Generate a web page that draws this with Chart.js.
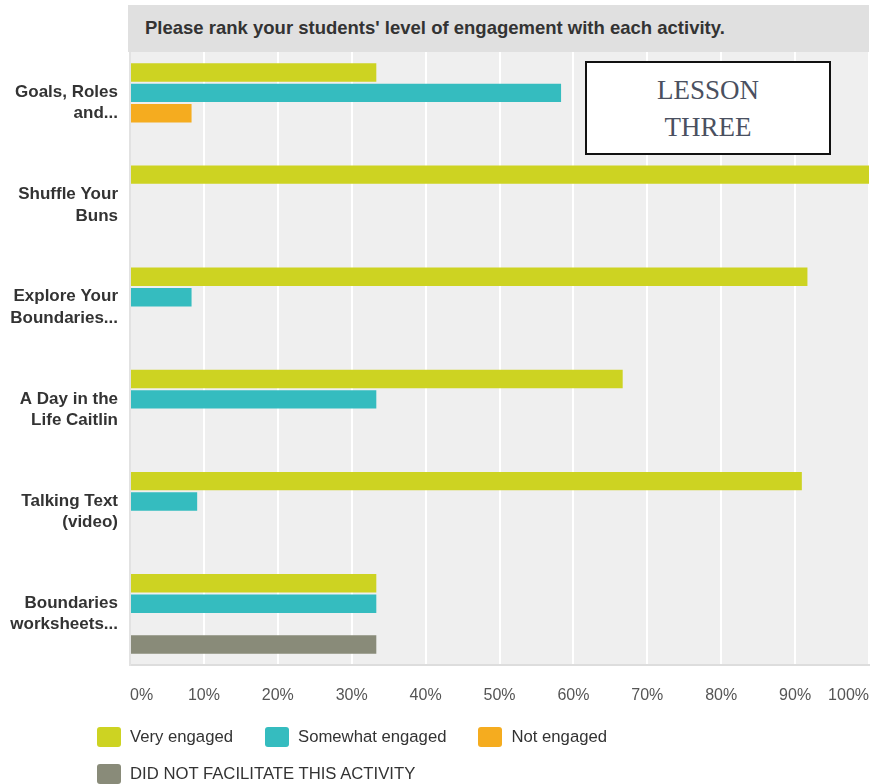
<!DOCTYPE html>
<html>
<head>
<meta charset="utf-8">
<script src="https://cdn.jsdelivr.net/npm/chart.js@4/dist/chart.umd.min.js"></script>
<style>
  html, body { margin: 0; padding: 0; background: #ffffff; }
  #wrap { position: relative; width: 871px; height: 784px; overflow: hidden; font-family: "Liberation Sans", Arial, sans-serif; }
  #c { position: absolute; left: 0; top: 0; }
  #titlebar { position: absolute; left: 128px; top: 5px; width: 741px; height: 47px; background: #e0e0e0;
    font-weight: bold; font-size: 18.5px; color: #333; line-height: 45px; box-sizing: border-box; padding-left: 17px; white-space: nowrap; }
  #lesson { position: absolute; left: 585px; top: 61px; width: 246px; height: 94px; box-sizing: border-box;
    border: 2px solid #111; background: #fff; font-family: "Liberation Serif", "DejaVu Serif", serif; font-size: 27px;
    color: #4a5060; text-align: center; line-height: 37px; padding-top: 9px; }
  #legend { position: absolute; left: 97px; top: 727px; width: 760px; display: flex; flex-wrap: wrap; row-gap: 17px; column-gap: 32px; }
  .li { display: flex; align-items: center; font-size: 16.7px; color: #333; height: 20px; }
  .sw { width: 24px; height: 20px; border-radius: 3px; margin-right: 9px; }
</style>
</head>
<body>
<div id="wrap">
  <canvas id="c" width="871" height="784"></canvas>
  <div id="titlebar">Please rank your students' level of engagement with each activity.</div>
  <div id="lesson">LESSON<br>THREE</div>
  <div id="legend"></div>
</div>
<script>
const categories = [
  ["Goals, Roles", "and..."],
  ["Shuffle Your", "Buns"],
  ["Explore Your", "Boundaries..."],
  ["A Day in the", "Life Caitlin"],
  ["Talking Text", "(video)"],
  ["Boundaries", "worksheets..."]
];
const seriesNames = ["Very engaged", "Somewhat engaged", "Not engaged", "DID NOT FACILITATE THIS ACTIVITY"];
const veryEngaged      = [33.33, 100, 91.67, 66.67, 90.91, 33.33];
const somewhatEngaged  = [58.33, 0, 8.33, 33.33, 9.09, 33.33];
const notEngaged       = [8.33, 0, 0, 0, 0, 0];
const didNotFacilitate = [0, 0, 0, 0, 0, 33.33];
const tickLabels = ["0%", "10%", "20%", "30%", "40%", "50%", "60%", "70%", "80%", "90%", "100%"];
const colors = ["#cdd322", "#35bcbf", "#f5ac1f", "#898b79"];

const seriesData = [veryEngaged, somewhatEngaged, notEngaged, didNotFacilitate];
const datasets = seriesNames.map((name, i) => ({
  label: name,
  data: seriesData[i],
  backgroundColor: colors[i],
  borderWidth: 0,
  categoryPercentage: 0.8,
  barPercentage: 0.9
}));

const bgPlugin = {
  id: 'plotBg',
  beforeDraw(chart) {
    const { ctx, chartArea: a } = chart;
    ctx.save();
    ctx.fillStyle = '#efefef';
    ctx.fillRect(a.left, a.top, a.right - a.left, a.bottom - a.top);
    ctx.restore();
  }
};

new Chart(document.getElementById('c'), {
  type: 'bar',
  data: { labels: categories, datasets },
  options: {
    indexAxis: 'y',
    responsive: false,
    animation: false,
    layout: { padding: { top: 52, right: 2, bottom: 69, left: 0 } },
    plugins: { legend: { display: false }, tooltip: { enabled: false }, title: { display: false } },
    scales: {
      x: {
        min: 0, max: 100,
        afterFit(s) { s.height = 50; s.paddingLeft = 0; s.paddingRight = 0; },
        grid: { color: '#ffffff', lineWidth: 2, drawTicks: false },
        border: { color: '#dddddd', width: 2 },
        ticks: {
          stepSize: 10,
          align: 'inner',
          padding: 21,
          color: '#555555',
          font: { family: "'Liberation Sans', Arial, sans-serif", size: 16 },
          callback: (v, i) => tickLabels[i]
        }
      },
      y: {
        afterFit(s) { s.width = 130; s.paddingTop = 0; s.paddingBottom = 0; },
        grid: { display: false, drawTicks: false },
        border: { color: '#e2e2e2', width: 2 },
        ticks: {
          padding: 12,
          color: '#333333',
          font: { family: "'Liberation Sans', Arial, sans-serif", size: 17, weight: 'bold', lineHeight: 1.25 }
        }
      }
    }
  },
  plugins: [bgPlugin]
});

const leg = document.getElementById('legend');
seriesNames.forEach((n, i) => {
  const d = document.createElement('div');
  d.className = 'li';
  d.innerHTML = '<span class="sw" style="background:' + colors[i] + '"></span><span>' + n + '</span>';
  leg.appendChild(d);
});
</script>
</body>
</html>
